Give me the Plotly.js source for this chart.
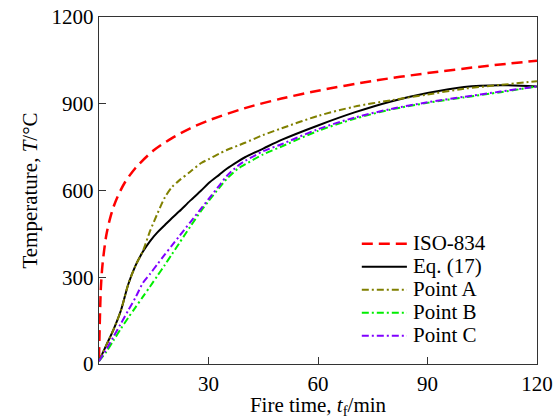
<!DOCTYPE html>
<html>
<head>
<meta charset="utf-8">
<script src="https://cdn.plot.ly/plotly-3.0.1.min.js"></script>
<style>
html,body{margin:0;padding:0;background:#fff;}
#wrap{position:relative;width:555px;height:419px;}
#chart{position:absolute;left:0;top:0;width:555px;height:419px;}
#legend{position:absolute;left:413px;top:232px;font-family:'Liberation Serif';font-size:21px;line-height:23px;color:#000;white-space:nowrap;z-index:5;}
</style>
</head>
<body>
<div id="wrap">
<div id="chart"></div>
<div id="legend"></div>
</div>
<script>
// ISO-834 standard curve
const isoTime = [0, 0.5, 1, 2, 3, 4, 5, 7, 10, 15, 20, 25, 30, 40, 50, 60, 75, 90, 105, 120];
const isoTemp = [20, 261, 349, 445, 502, 544, 576, 626, 678, 739, 781, 815, 842, 885, 918, 945, 979, 1006, 1029, 1049];

// Common time grid for the other curves (min)
const fireTime = [0, 2, 4, 6, 8, 10, 12, 14, 16, 18, 20, 22, 25, 28, 30, 33, 35, 38, 40, 45, 50, 60, 70, 80, 90, 100, 110, 120];
const eq17   = [10, 65, 120, 185, 275, 340, 388, 425, 455, 480, 505, 528, 565, 600, 625, 655, 675, 700, 715, 745, 775, 825, 870, 908, 937, 958, 964, 960];
const pointA = [10, 65, 120, 185, 275, 340, 390, 460, 520, 575, 612, 635, 665, 695, 708, 728, 740, 755, 765, 792, 815, 858, 890, 912, 932, 952, 965, 978];
const pointB = [10, 42, 82, 122, 160, 196, 232, 268, 305, 342, 380, 418, 475, 530, 563, 610, 640, 675, 690, 725, 752, 806, 848, 880, 903, 922, 940, 960];
const pointC = [10, 50, 95, 140, 185, 230, 280, 312, 345, 378, 410, 442, 490, 538, 570, 618, 650, 685, 702, 736, 760, 812, 852, 882, 905, 924, 942, 960];

// Legend labels and tick labels
const seriesNames = ['ISO-834', 'Eq. (17)', 'Point A', 'Point B', 'Point C'];
const xTicks = [30, 60, 90, 120];
const yTicks = [0, 300, 600, 900, 1200];

const FONT = 'Liberation Serif';
const colors = ['#ff0000', '#000000', '#808000', '#00ee00', '#8000ff'];
const dashes = ['11px,6px', 'solid', '7px,3px,2px,3px', '7px,3px,2px,3px', '7px,3px,2px,3px'];
const widths = [2.5, 2, 2, 2, 2];

// Legend text (HTML, serif)
document.getElementById('legend').innerHTML = seriesNames.map(n => '<div>' + n + '</div>').join('');

const xs = [isoTime, fireTime, fireTime, fireTime, fireTime];
const ys = [isoTemp, eq17, pointA, pointB, pointC];

const traces = ys.map((y, i) => ({
  x: xs[i], y: y, name: seriesNames[i], mode: 'lines', showlegend: false,
  line: {color: colors[i], width: widths[i], dash: dashes[i], shape: 'spline', smoothing: 0.8}
}));

// Legend line samples (paper coordinates)
const legX0 = 0.600, legX1 = 0.703;
const legY = [0.3467, 0.2803, 0.2140, 0.1478, 0.0815];
const shapes = seriesNames.map((n, i) => ({
  type: 'line', xref: 'paper', yref: 'paper', x0: legX0, x1: legX1, y0: legY[i], y1: legY[i],
  line: {color: colors[i], width: widths[i], dash: dashes[i]}
}));

const layout = {
  width: 555, height: 419,
  margin: {l: 99, r: 18, t: 17, b: 55},
  paper_bgcolor: '#fff', plot_bgcolor: '#fff',
  font: {family: FONT, size: 21, color: '#000'},
  showlegend: false,
  shapes: shapes,
  xaxis: {
    range: [0, 120], tickvals: xTicks, ticktext: xTicks.map(String),
    ticks: 'inside', ticklen: 7, tickcolor: '#333', showline: true, linecolor: '#333', linewidth: 1.3,
    mirror: true, showgrid: false, zeroline: false,
    tickfont: {family: FONT, size: 21, color: '#000'},
    title: {text: 'Fire time, <i>t</i><sub>f</sub>/min', font: {family: FONT, size: 21, color: '#000'}, standoff: 6}
  },
  yaxis: {
    range: [0, 1200], tickvals: yTicks, ticktext: yTicks.map(String),
    ticks: 'inside', ticklen: 7, tickcolor: '#333', showline: true, linecolor: '#333', linewidth: 1.3,
    mirror: true, showgrid: false, zeroline: false,
    tickfont: {family: FONT, size: 21, color: '#000'},
    title: {text: 'Temperature, <i>T</i>/°C', font: {family: FONT, size: 21, color: '#000'}, standoff: 8}
  }
};

Plotly.newPlot('chart', traces, layout, {displayModeBar: false, staticPlot: true});
</script>
</body>
</html>
